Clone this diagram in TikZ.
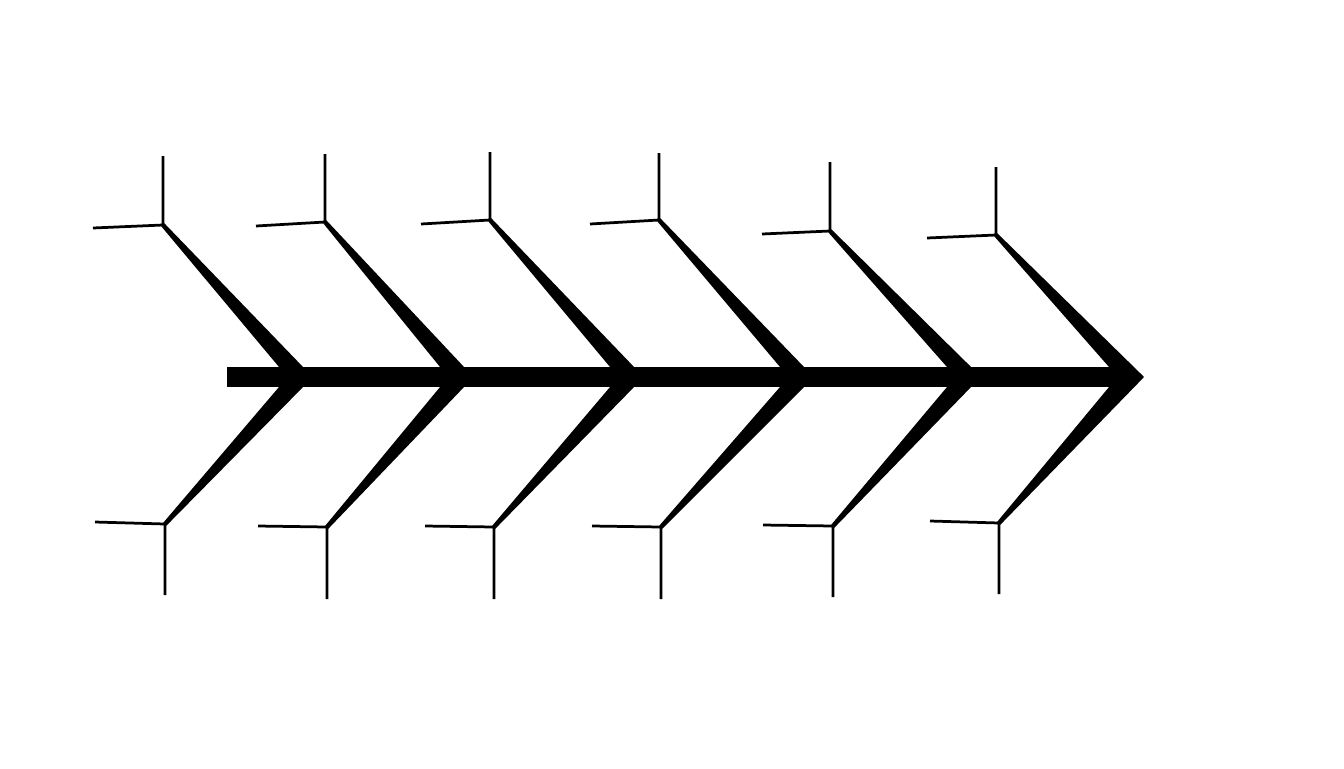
\documentclass[tikz,border=0pt]{standalone}
\usetikzlibrary{calc}

\tikzset{
  spine/.style={draw=black, line width=0.40cm},
  bone/.style={fill=black, draw=black, line width=0.03cm, line join=round},
  twig/.style={draw=black, line width=0.055cm, line join=round},
}

\begin{document}
\begin{tikzpicture}[x=0.02cm, y=-0.02cm]
\useasboundingbox (0,0) rectangle (1344,768);
% tips of the chevrons
\coordinate (T1) at (306,377);
\coordinate (T2) at (467,377);
\coordinate (T3) at (637,377);
\coordinate (T4) at (807,377);
\coordinate (T5) at (974,377);
\coordinate (T6) at (1143,377);
% upper and lower joints
\coordinate (U1) at (163,225);
\coordinate (U2) at (325,222);
\coordinate (U3) at (490,220);
\coordinate (U4) at (659,220);
\coordinate (U5) at (830,231);
\coordinate (U6) at (996,235);
\coordinate (L1) at (165,524);
\coordinate (L2) at (327,527);
\coordinate (L3) at (494,527);
\coordinate (L4) at (661,527);
\coordinate (L5) at (833,526);
\coordinate (L6) at (999,523);
% ends of the small bones
\coordinate (U1h) at (93,228);   \coordinate (U1v) at (163,156);
\coordinate (U2h) at (256,226);  \coordinate (U2v) at (325,154);
\coordinate (U3h) at (421,224);  \coordinate (U3v) at (490,152);
\coordinate (U4h) at (590,224);  \coordinate (U4v) at (659,153);
\coordinate (U5h) at (762,234);  \coordinate (U5v) at (830,162);
\coordinate (U6h) at (927,238);  \coordinate (U6v) at (996,167);
\coordinate (L1h) at (95,522);   \coordinate (L1v) at (165,595);
\coordinate (L2h) at (258,526);  \coordinate (L2v) at (327,599);
\coordinate (L3h) at (425,526);  \coordinate (L3v) at (494,599);
\coordinate (L4h) at (592,526);  \coordinate (L4v) at (661,599);
\coordinate (L5h) at (763,525);  \coordinate (L5v) at (833,597);
\coordinate (L6h) at (930,521);  \coordinate (L6v) at (999,594);
% spine
\coordinate (S0) at (227,377);
\coordinate (S1) at (1120,377);
\draw[spine] (S0) -- (S1);
% chevrons
\fill[bone] ($(U1)+(1,-1)$) -- ($(T1)+(-4,-10)$) -- (T1) -- ($(T1)+(-4,10)$) -- ($(L1)+(1,1)$) -- ($(L1)+(-1,-1)$) -- ($(T1)+(-26,10)$) -- ($(T1)+(-26,-10)$) -- ($(U1)+(-1,1)$) -- cycle;
\fill[bone] ($(U2)+(1,-1)$) -- ($(T2)+(-4,-10)$) -- (T2) -- ($(T2)+(-4,10)$) -- ($(L2)+(1,1)$) -- ($(L2)+(-1,-1)$) -- ($(T2)+(-26,10)$) -- ($(T2)+(-26,-10)$) -- ($(U2)+(-1,1)$) -- cycle;
\fill[bone] ($(U3)+(1,-1)$) -- ($(T3)+(-4,-10)$) -- (T3) -- ($(T3)+(-4,10)$) -- ($(L3)+(1,1)$) -- ($(L3)+(-1,-1)$) -- ($(T3)+(-26,10)$) -- ($(T3)+(-26,-10)$) -- ($(U3)+(-1,1)$) -- cycle;
\fill[bone] ($(U4)+(1,-1)$) -- ($(T4)+(-4,-10)$) -- (T4) -- ($(T4)+(-4,10)$) -- ($(L4)+(1,1)$) -- ($(L4)+(-1,-1)$) -- ($(T4)+(-26,10)$) -- ($(T4)+(-26,-10)$) -- ($(U4)+(-1,1)$) -- cycle;
\fill[bone] ($(U5)+(1,-1)$) -- ($(T5)+(-4,-10)$) -- (T5) -- ($(T5)+(-4,10)$) -- ($(L5)+(1,1)$) -- ($(L5)+(-1,-1)$) -- ($(T5)+(-26,10)$) -- ($(T5)+(-26,-10)$) -- ($(U5)+(-1,1)$) -- cycle;
\fill[bone] ($(U6)+(1,-1)$) -- (T6) -- ($(L6)+(1,1)$) -- ($(L6)+(-1,-1)$) -- ($(T6)+(-33,10)$) -- ($(T6)+(-33,-10)$) -- ($(U6)+(-1,1)$) -- cycle;
% small bones
\draw[twig] (U1h) -- (U1) -- (U1v);
\draw[twig] (U2h) -- (U2) -- (U2v);
\draw[twig] (U3h) -- (U3) -- (U3v);
\draw[twig] (U4h) -- (U4) -- (U4v);
\draw[twig] (U5h) -- (U5) -- (U5v);
\draw[twig] (U6h) -- (U6) -- (U6v);
\draw[twig] (L1h) -- (L1) -- (L1v);
\draw[twig] (L2h) -- (L2) -- (L2v);
\draw[twig] (L3h) -- (L3) -- (L3v);
\draw[twig] (L4h) -- (L4) -- (L4v);
\draw[twig] (L5h) -- (L5) -- (L5v);
\draw[twig] (L6h) -- (L6) -- (L6v);
\end{tikzpicture}
\end{document}
